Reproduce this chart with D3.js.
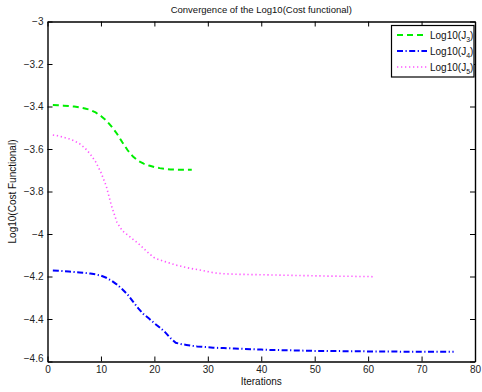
<!DOCTYPE html>
<html>
<head>
<meta charset="utf-8">
<script src="https://cdn.jsdelivr.net/npm/d3@7"></script>
<style>
  html, body { margin: 0; padding: 0; background: #fff; }
  svg { display: block; font-family: "Liberation Sans", Arial, Helvetica, sans-serif; }
</style>
</head>
<body>
<svg id="chart" width="482" height="392"></svg>
<script>
// Log10 of the cost functional per iteration for three cases
const j3Values = [-3.393, -3.394, -3.396, -3.398, -3.400, -3.404, -3.409, -3.416, -3.428, -3.445,
  -3.466, -3.495, -3.528, -3.568, -3.606, -3.636, -3.656, -3.669, -3.678, -3.685,
  -3.690, -3.694, -3.696, -3.697, -3.698, -3.698, -3.698];

const j4Values = [-4.172, -4.173, -4.175, -4.177, -4.179, -4.181, -4.183, -4.186, -4.190, -4.196,
  -4.206, -4.220, -4.238, -4.260, -4.285, -4.318, -4.350, -4.378, -4.398, -4.420,
  -4.440, -4.462, -4.490, -4.512, -4.518, -4.522, -4.526, -4.529, -4.531, -4.533,
  -4.535, -4.536, -4.537, -4.538, -4.539, -4.540, -4.541, -4.542, -4.543, -4.544,
  -4.545, -4.546, -4.546, -4.547, -4.547, -4.548, -4.548, -4.549, -4.549, -4.550,
  -4.550, -4.550, -4.551, -4.551, -4.551, -4.552, -4.552, -4.552, -4.552, -4.553,
  -4.553, -4.553, -4.553, -4.553, -4.553, -4.554, -4.554, -4.554, -4.554, -4.554,
  -4.554, -4.554, -4.554, -4.554, -4.554, -4.554];

const j5Values = [-3.534, -3.538, -3.545, -3.552, -3.562, -3.575, -3.595, -3.624, -3.660, -3.710,
  -3.775, -3.870, -3.945, -3.985, -4.005, -4.025, -4.045, -4.068, -4.092, -4.112,
  -4.122, -4.130, -4.138, -4.146, -4.152, -4.158, -4.163, -4.167, -4.172, -4.177,
  -4.182, -4.185, -4.187, -4.188, -4.189, -4.190, -4.190, -4.191, -4.191, -4.192,
  -4.192, -4.193, -4.193, -4.194, -4.194, -4.195, -4.195, -4.196, -4.196, -4.197,
  -4.197, -4.198, -4.198, -4.198, -4.199, -4.199, -4.199, -4.200, -4.200, -4.200,
  -4.201];

const seriesNames = ["Log10(J", "Log10(J", "Log10(J"];
const seriesSubs = ["3", "4", "5"];
const xTicks = [0, 10, 20, 30, 40, 50, 60, 70, 80];
const yTicks = [-3, -3.2, -3.4, -3.6, -3.8, -4, -4.2, -4.4, -4.6];

const titleText = "Convergence of the Log10(Cost functional)";
const xLabel = "Iterations";
const yLabel = "Log10(Cost Functional)";

const margin = { left: 47.5, right: 7, top: 21.5, bottom: 30.5 };
const W = 482, H = 392;

const svg = d3.select("#chart");

const x = d3.scaleLinear().domain([0, 80]).range([margin.left, W - margin.right]);
const y = d3.scaleLinear().domain([-4.6, -3]).range([H - margin.bottom, margin.top]);

const styles = [
  { color: "#00ee00", dash: "6,4", width: 2 },
  { color: "#0000ff", dash: "6,2.5,1.2,2.5", width: 2 },
  { color: "#ff55ff", dash: "1.3,2.7", width: 1.6 }
];

const allSeries = [j3Values, j4Values, j5Values];

const line = d3.line()
  .x((d, i) => x(i + 1))
  .y(d => y(d));

// data lines
allSeries.forEach((vals, k) => {
  svg.append("path")
    .datum(vals)
    .attr("d", line)
    .attr("fill", "none")
    .attr("stroke", styles[k].color)
    .attr("stroke-width", styles[k].width)
    .attr("stroke-dasharray", styles[k].dash);
});

// axes with inward ticks on all four sides
const tickLen = 5;
const axisFont = 10;

const axisBottomG = svg.append("g")
  .attr("transform", `translate(0,${y(-4.6)})`)
  .call(d3.axisBottom(x).tickValues(xTicks).tickSizeInner(-tickLen).tickSizeOuter(0).tickPadding(4).tickFormat(d3.format("d")));
const axisTopG = svg.append("g")
  .attr("transform", `translate(0,${y(-3)})`)
  .call(d3.axisTop(x).tickValues(xTicks).tickSizeInner(-tickLen).tickSizeOuter(0).tickFormat(""));
const axisLeftG = svg.append("g")
  .attr("transform", `translate(${x(0)},0)`)
  .call(d3.axisLeft(y).tickValues(yTicks).tickSizeInner(-tickLen).tickSizeOuter(0).tickPadding(4)
    .tickFormat(d => (d < 0 ? "\u2212" : "") + Math.abs(d)));
const axisRightG = svg.append("g")
  .attr("transform", `translate(${x(80)},0)`)
  .call(d3.axisRight(y).tickValues(yTicks).tickSizeInner(-tickLen).tickSizeOuter(0).tickFormat(""));

[axisBottomG, axisTopG, axisLeftG, axisRightG].forEach(g => {
  g.select(".domain").attr("stroke", "#000").attr("stroke-width", 1.4);
  g.selectAll(".tick line").attr("stroke", "#000").attr("stroke-width", 1);
  g.selectAll(".tick text").attr("fill", "#222").style("font-size", axisFont + "px")
    .style("font-family", "'Liberation Sans', Arial, sans-serif");
});
// lift the lowest y label a little off the corner
axisLeftG.selectAll(".tick text").filter(d => d === -4.6).attr("dy", "-0.05em");

// title and axis labels
svg.append("text")
  .attr("x", (x(0) + x(80)) / 2)
  .attr("y", 13)
  .attr("text-anchor", "middle")
  .style("font-size", "9.5px")
  .attr("fill", "#111")
  .text(titleText);

svg.append("text")
  .attr("x", (x(0) + x(80)) / 2)
  .attr("y", 385)
  .attr("text-anchor", "middle")
  .style("font-size", "10px")
  .attr("fill", "#111")
  .text(xLabel);

svg.append("text")
  .attr("transform", `translate(16,${(y(-3) + y(-4.6)) / 2}) rotate(-90)`)
  .attr("text-anchor", "middle")
  .style("font-size", "10px")
  .attr("fill", "#111")
  .text(yLabel);

// legend
const lg = svg.append("g").attr("transform", "translate(391.5,25.5)");
lg.append("rect")
  .attr("width", 82.5).attr("height", 51.5)
  .attr("fill", "#fff").attr("stroke", "#000").attr("stroke-width", 1.2);

seriesNames.forEach((name, k) => {
  const cy = 9.5 + k * 16;
  lg.append("line")
    .attr("x1", 5.5).attr("x2", 35.5).attr("y1", cy).attr("y2", cy)
    .attr("stroke", styles[k].color)
    .attr("stroke-width", styles[k].width)
    .attr("stroke-dasharray", styles[k].dash);
  const t = lg.append("text")
    .attr("x", 38.5).attr("y", cy + 3.5)
    .style("font-size", "10px")
    .attr("fill", "#111");
  t.append("tspan").text(name);
  t.append("tspan").attr("dy", 3).style("font-size", "7px").text(seriesSubs[k]);
  t.append("tspan").attr("dy", -3).text(")");
});
</script>
</body>
</html>
